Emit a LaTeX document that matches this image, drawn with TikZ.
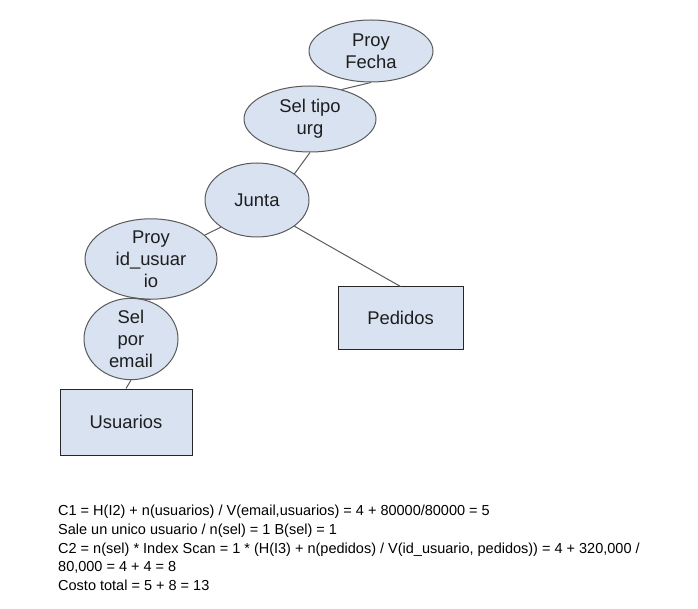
\documentclass[tikz,border=0pt]{standalone}
\usepackage{fontspec}
\setmainfont{Liberation Sans}
\usepackage{tikz}
\usetikzlibrary{shapes}

\definecolor{opfill}{RGB}{216,226,241}
\definecolor{opline}{RGB}{90,90,90}
\definecolor{optext}{RGB}{30,30,30}

\begin{document}
\begin{tikzpicture}[x=1pt, y=-1pt,
    op/.style={ellipse, draw=opline, fill=opfill, line width=1pt, inner sep=0pt,
      align=center, text=optext, font=\fontsize{18.4}{22}\selectfont},
    rel/.style={rectangle, draw=black!85, fill=opfill, line width=1pt, inner sep=0pt,
      text=optext, font=\fontsize{18.4}{22}\selectfont},
    edge/.style={draw=opline, line width=1pt}]

      \useasboundingbox (0,0) rectangle (698,609);
      %% operators
      \node[op, minimum width=124pt, minimum height=62pt] (proyfecha) at (371,51) {Proy\\Fecha};
      \node[op, minimum width=132pt, minimum height=66pt] (seltipo) at (310,119) {Sel tipo\\urg};
      \node[op, minimum width=104pt, minimum height=74pt] (junta) at (257,200) {Junta};
      \node[op, minimum width=132pt, minimum height=60pt] (proyid) at (151,259) {Proy\\id\_usuar\\io};
      \node[op, minimum width=94pt, minimum height=66pt] (selemail) at (131,339) {Sel\\por\\email};
      %% relations
      \node[rel, minimum width=132pt, minimum height=66pt] (usuarios) at (126,422) {Usuarios};
      \node[rel, minimum width=125pt, minimum height=62pt] (pedidos) at (400.5,318) {Pedidos};
      %% tree
      \draw[edge] (proyfecha.south) -- (seltipo.43);
      \draw[edge] (seltipo.south) -- (junta.35);
      \draw[edge] (junta.217) -- (proyid.24);
      \draw[edge] (junta.325) -- (pedidos.north);
      \draw[edge] (proyid.south) -- (selemail.north);
      \draw[edge] (selemail.south) -- (usuarios.north);
      %% costs
      \node[anchor=north west, align=left, inner sep=0pt, text=black,
        font=\fontsize{14.5}{18.7}\selectfont] (costos) at (58,505)
        {C1 = H(I2) + n(usuarios) / V(email,usuarios) = 4 + 80000/80000 = 5\\
         Sale un unico usuario / n(sel) = 1 B(sel) = 1\\
         C2 = n(sel) * Index Scan = 1 * (H(I3) + n(pedidos) / V(id\_usuario, pedidos)) = 4 + 320,000 /\\
         80,000 = 4 + 4 = 8\\
         Costo total = 5 + 8 = 13};

\end{tikzpicture}
\end{document}
